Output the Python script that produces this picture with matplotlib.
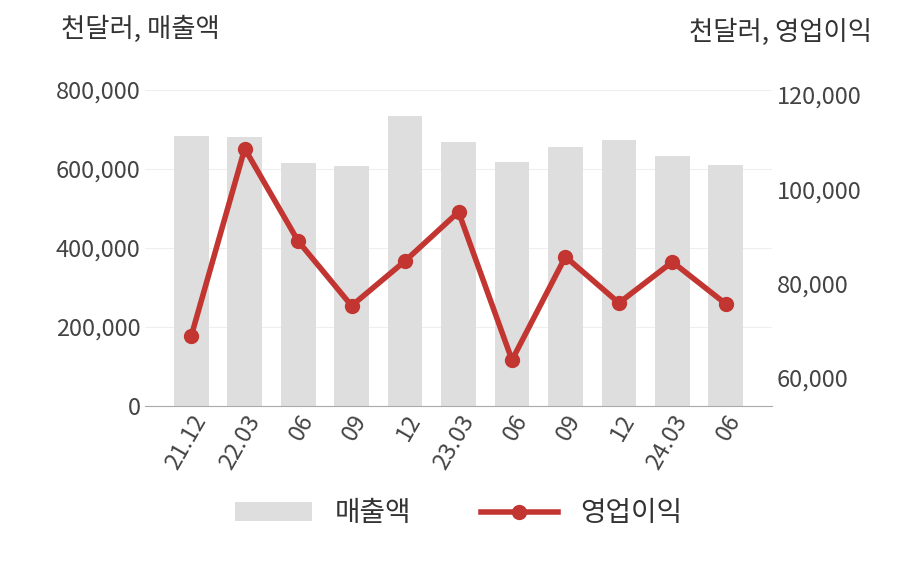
import matplotlib
matplotlib.use("Agg")
import matplotlib.pyplot as plt
from matplotlib.ticker import FuncFormatter

plt.rcParams['font.family'] = ['Noto Sans CJK KR', 'DejaVu Sans']

labels = ["21.12", "22.03", "06", "09", "12", "23.03", "06", "09", "12", "24.03", "06"]
sales = [683000, 681000, 615000, 608000, 734000, 668000, 618000, 656000, 673000, 633000, 610000]
op = [68900, 108600, 89000, 75300, 84800, 95200, 63800, 85700, 75900, 84600, 75700]

fig = plt.figure(figsize=(9.08, 5.8), dpi=100)
ax = fig.add_axes([0.16, 0.30, 0.69, 0.545])
x = list(range(len(labels)))
ax.bar(x, sales, width=0.65, color='#dedede', label='매출액', zorder=2)
ax.set_xlim(-0.86, 10.86)
ax.set_ylim(0, 800000)
ax.set_yticks([0, 200000, 400000, 600000, 800000])
fmt = FuncFormatter(lambda v, p: f"{int(v):,}")
ax.yaxis.set_major_formatter(fmt)
ax.grid(axis='y', color='#eeeeee', zorder=0)
for s in ['top', 'right', 'left']:
    ax.spines[s].set_visible(False)
ax.spines['bottom'].set_color('#aaaaaa')
ax.tick_params(axis='y', length=0, labelsize=17, colors='#444444')
ax.tick_params(axis='x', length=0, labelsize=17, colors='#444444')
ax.set_xticks(x)
ax.set_xticklabels(labels, rotation=60, ha='right', rotation_mode='anchor')

ax2 = ax.twinx()
ax2.plot(x, op, color='#c23531', lw=4, marker='o', ms=10, label='영업이익', zorder=3)
ax2.set_ylim(54060, 121060)
ax2.set_yticks([60000, 80000, 100000, 120000])
ax2.yaxis.set_major_formatter(fmt)
for s in ['top', 'right', 'left', 'bottom']:
    ax2.spines[s].set_visible(False)
ax2.tick_params(axis='y', length=0, labelsize=17, colors='#444444')

fig.text(0.067, 0.95, "천달러, 매출액", fontsize=19, color='#333333', va='center')
fig.text(0.96, 0.945, "천달러, 영업이익", fontsize=19, color='#333333', ha='right', va='center')

h1, l1 = ax.get_legend_handles_labels()
h2, l2 = ax2.get_legend_handles_labels()
fig.legend(h1 + h2, l1 + l2, loc='center', bbox_to_anchor=(0.505, 0.115), ncol=2,
           frameon=False, fontsize=20, handlelength=2.8, columnspacing=2.5, labelcolor='#333333')
fig.savefig("out.png", dpi=100)
